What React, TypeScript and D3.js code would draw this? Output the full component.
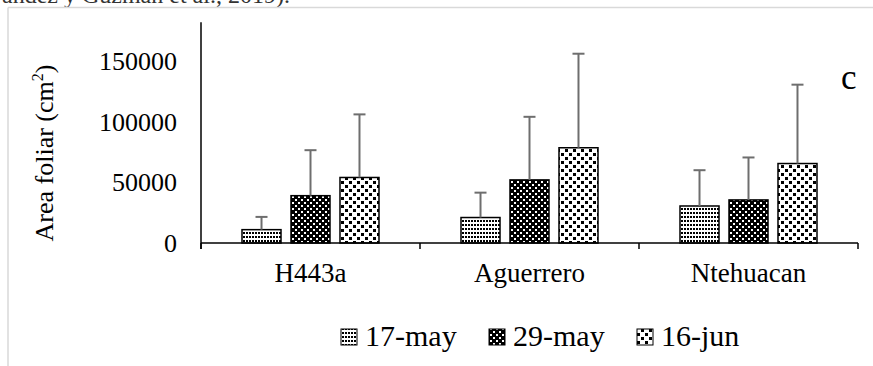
import React from "react";
import * as d3 from "d3";

const categories = ["H443a", "Aguerrero", "Ntehuacan"];
const seriesNames = ["17-may", "29-may", "16-jun"];
const may17 = [11000, 21000, 30500];
const may17Err = [10500, 20500, 29500];
const may29 = [39000, 52000, 35500];
const may29Err = [37500, 52000, 35000];
const jun16 = [54000, 78500, 65500];
const jun16Err = [52000, 77500, 65000];
const yTicks = [0, 50000, 100000, 150000];

const seriesValues = [may17, may29, jun16];
const seriesErrs = [may17Err, may29Err, jun16Err];
const patternIds = ["pat17", "pat29", "pat16"];

const W = 873;
const H = 366;
const TS = { fontFamily: "Liberation Serif" };

export default function App() {
  const x0 = d3.scaleBand<string>().domain(categories).range([201, 858]).padding(0);
  const x1 = d3
    .scaleBand<string>()
    .domain(seriesNames)
    .range([0, x0.bandwidth()])
    .paddingInner(0.204)
    .paddingOuter(0.837);
  const y = d3.scaleLinear().domain([0, 150000]).range([243, 61]);
  const yTop = y(182000);

  const bars: React.ReactNode[] = [];
  const errs: React.ReactNode[] = [];
  categories.forEach((c, ci) => {
    seriesNames.forEach((s, si) => {
      const v = seriesValues[si][ci];
      const e = seriesErrs[si][ci];
      const bx = (x0(c) || 0) + (x1(s) || 0);
      const bw = x1.bandwidth();
      bars.push(
        <rect
          key={`b-${c}-${s}`}
          x={bx}
          y={y(v)}
          width={bw}
          height={y(0) - y(v)}
          fill={`url(#${patternIds[si]})`}
          stroke="#000"
          strokeWidth={1.5}
        />
      );
      const cx = bx + bw / 2;
      errs.push(
        <g key={`e-${c}-${s}`} stroke="#6e6e6e" strokeWidth={2}>
          <line x1={cx} x2={cx} y1={y(v)} y2={y(v + e)} />
          <line x1={cx - 6} x2={cx + 6} y1={y(v + e)} y2={y(v + e)} />
        </g>
      );
    });
  });

  const legendX = [341, 489, 637];

  return (
    <svg width={W} height={H} style={{ position: "absolute", left: 0, top: 0, background: "#fff" }}>
      <style>{`text { font-family: "Liberation Serif", serif; }`}</style>
      <defs>
        <pattern id="pat17" width={3} height={4} patternUnits="userSpaceOnUse">
          <rect width={3} height={4} fill="#fff" />
          <rect x={0} y={0} width={2} height={2} fill="#000" />
        </pattern>
        <pattern id="pat29" width={6} height={6} patternUnits="userSpaceOnUse">
          <rect width={6} height={6} fill="#000" />
          <rect x={1} y={1} width={2} height={2} fill="#fff" />
          <rect x={4} y={4} width={2} height={2} fill="#fff" />
        </pattern>
        <pattern id="pat16" width={8} height={8} patternUnits="userSpaceOnUse">
          <rect width={8} height={8} fill="#fff" />
          <rect x={1} y={1} width={3} height={3} fill="#000" />
          <rect x={5} y={5} width={3} height={3} fill="#000" />
        </pattern>
      </defs>

      {/* partially visible text from the page above */}
      <text x={2} y={3} fontSize={24} fill="#333" style={TS}>
        ández y Guzmán et al., 2019).
      </text>

      {/* frame */}
      <line x1={8} x2={W} y1={7.5} y2={7.5} stroke="#d9d9d9" strokeWidth={1.5} />
      <line x1={8} x2={8} y1={7.5} y2={H} stroke="#d9d9d9" strokeWidth={1.5} />

      {/* y title */}
      <text
        transform="translate(53,153) rotate(-90)"
        textAnchor="middle"
        fontSize={26}
        fill="#000"
        style={TS}
      >
        Area foliar (cm
        <tspan fontSize={16} dy={-10}>2</tspan>
        <tspan dy={10}>)</tspan>
      </text>

      {/* y ticks */}
      {yTicks.map((t) => (
        <text key={t} x={177} y={y(t)} dy="0.35em" textAnchor="end" fontSize={26} fill="#000" style={TS}>
          {t}
        </text>
      ))}

      {bars}
      {errs}

      {/* axes */}
      <line x1={201} x2={201} y1={yTop} y2={249} stroke="#000" strokeWidth={1.5} />
      <line x1={201} x2={858} y1={y(0)} y2={y(0)} stroke="#000" strokeWidth={1.5} />
      {[...categories.map((c) => x0(c) || 0), 858].map((tx, i) => (
        <line key={i} x1={tx} x2={tx} y1={y(0)} y2={249} stroke="#000" strokeWidth={1.5} />
      ))}
      {categories.map((c) => (
        <text
          key={c}
          x={(x0(c) || 0) + x0.bandwidth() / 2}
          y={282}
          textAnchor="middle"
          fontSize={27}
          fill="#000"
          style={TS}
        >
          {c}
        </text>
      ))}

      <text x={841} y={89} fontSize={35} fill="#000" style={TS}>
        c
      </text>

      {/* legend */}
      {seriesNames.map((s, i) => (
        <g key={s}>
          <rect
            x={legendX[i]}
            y={329}
            width={16}
            height={16}
            fill={`url(#${patternIds[i]})`}
            stroke="#000"
            strokeWidth={1}
          />
          <text x={legendX[i] + 24} y={346} fontSize={30} fill="#000" style={TS}>
            {s}
          </text>
        </g>
      ))}
    </svg>
  );
}
